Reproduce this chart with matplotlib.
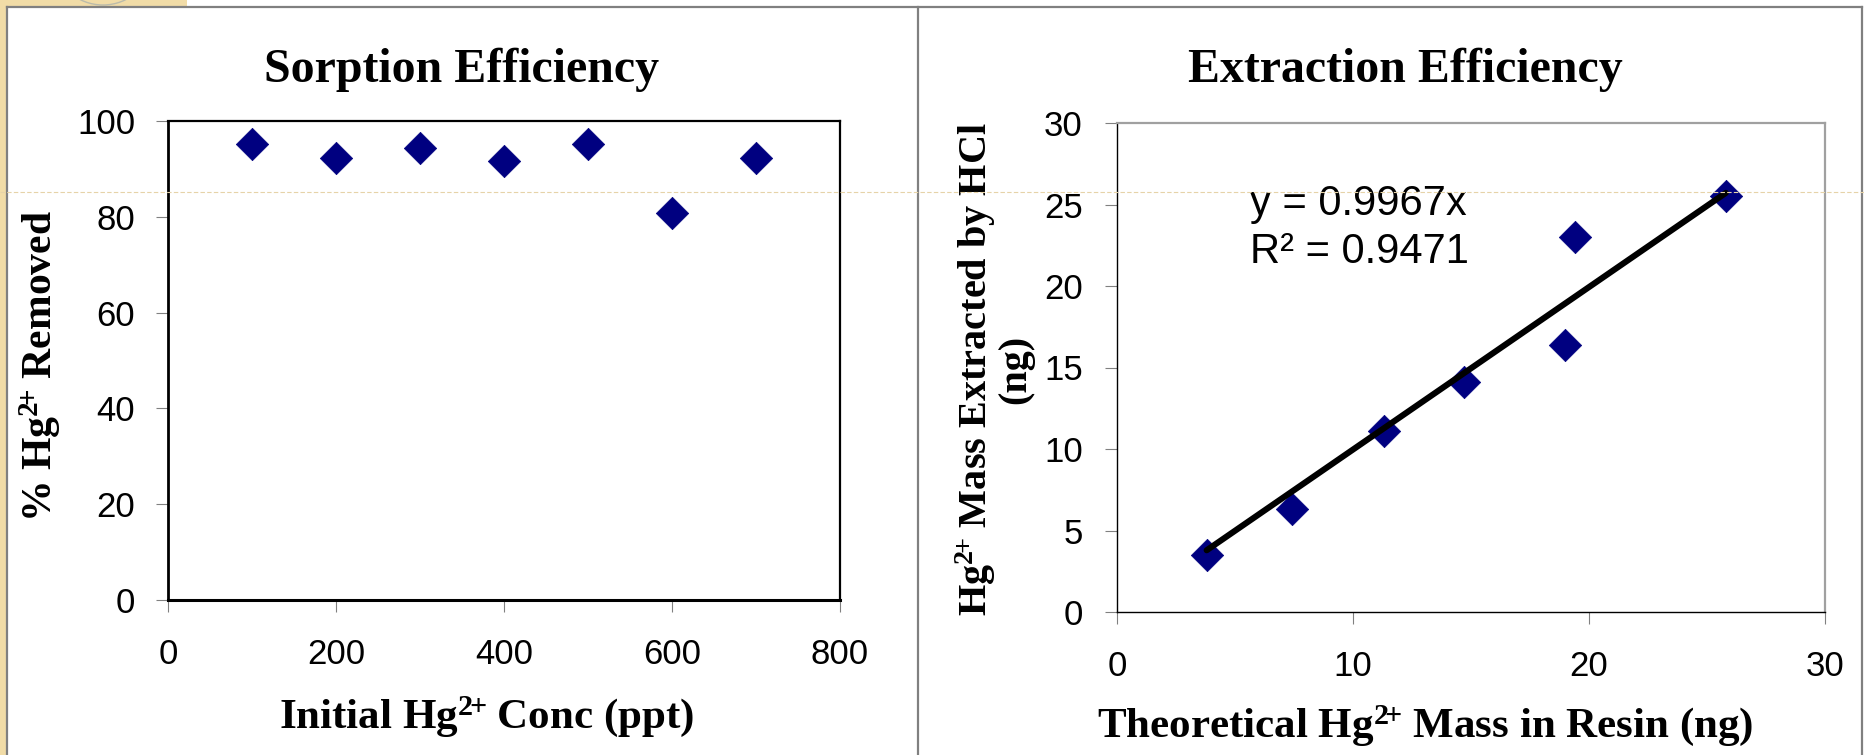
import matplotlib
matplotlib.use("Agg")
import matplotlib.pyplot as plt
from matplotlib.lines import Line2D
from matplotlib.patches import Rectangle, Ellipse

# ---------------- data ----------------
conc_ppt = [100, 200, 300, 400, 500, 600, 700]
pct_removed = [95.2, 92.3, 94.3, 91.6, 95.2, 80.7, 92.3]

theo_mass = [3.8, 7.4, 11.3, 14.7, 19.0, 19.4, 25.8]
extr_mass = [3.5, 6.3, 11.1, 14.1, 16.4, 23.0, 25.5]

slope = 0.9967
r2 = 0.9471

left_xticks = [0, 200, 400, 600, 800]
left_yticks = [0, 20, 40, 60, 80, 100]
right_xticks = [0, 10, 20, 30]
right_yticks = [0, 5, 10, 15, 20, 25, 30]

# ---------------- style ----------------
plt.rcParams['mathtext.fontset'] = 'custom'
plt.rcParams['mathtext.rm'] = 'Liberation Serif:bold'
plt.rcParams['mathtext.it'] = 'Liberation Serif:bold'
plt.rcParams['mathtext.bf'] = 'Liberation Serif:bold'

W, H = 1865, 755
fig = plt.figure(figsize=(W / 100, H / 100), dpi=100)
fig.patch.set_facecolor('white')

def fx(px):
    return px / W

def fy(py):
    return 1 - py / H

SERIF = 'Liberation Serif'
SANS = 'Liberation Sans'
NAVY = '#000080'
GRAY = '#808080'
BEIGE = '#F1DCA7'
SUP = r'Hg$^{2\!\!+}\!$'

# slide decoration
fig.add_artist(Rectangle((0, 0), fx(7), 1, transform=fig.transFigure,
                         facecolor=BEIGE, edgecolor='none', zorder=0))
fig.add_artist(Rectangle((0, fy(7)), fx(187), 7 / H, transform=fig.transFigure,
                         facecolor=BEIGE, edgecolor='none', zorder=0))
fig.add_artist(Ellipse((fx(103), fy(-40)), fx(96), 90 / H, transform=fig.transFigure,
                       facecolor='none', edgecolor='#BBBBAA', lw=1.0, zorder=1))
# frame lines
for x in [7, 918, 1862]:
    fig.add_artist(Line2D([fx(x), fx(x)], [fy(7), 0], transform=fig.transFigure,
                          color=GRAY, lw=1.6, zorder=2))
fig.add_artist(Line2D([fx(7), fx(1862)], [fy(7), fy(7)], transform=fig.transFigure,
                      color=GRAY, lw=1.6, zorder=2))

# ---------------- left chart ----------------
ax1 = fig.add_axes([fx(168), fy(600), fx(840) - fx(168), fy(121) - fy(600)])
ax1.scatter(conc_ppt, pct_removed, marker='D', s=16.5 ** 2, color=NAVY,
            edgecolors=NAVY, linewidths=0.5, zorder=3, clip_on=False)
ax1.set_xlim(0, 800)
ax1.set_ylim(0, 100)
ax1.set_xticks(left_xticks)
ax1.set_yticks(left_yticks)
for s in ax1.spines.values():
    s.set_color('black')
ax1.spines['left'].set_linewidth(2.0)
ax1.spines['bottom'].set_linewidth(2.2)
ax1.spines['top'].set_linewidth(1.6)
ax1.spines['right'].set_linewidth(1.6)
ax1.tick_params(axis='both', direction='out', length=8.6, width=0.8, color=GRAY,
                labelsize=25)
ax1.tick_params(axis='x', pad=19)
ax1.tick_params(axis='y', pad=15)
for lab in ax1.get_xticklabels() + ax1.get_yticklabels():
    lab.set_fontfamily(SANS)

fig.text(fx(462), fy(82), 'Sorption Efficiency', ha='center', va='baseline',
         fontfamily=SERIF, fontweight='bold', fontsize=34.5)
fig.text(fx(487), fy(728), f'Initial {SUP} Conc (ppt)', ha='center', va='baseline',
         fontfamily=SERIF, fontweight='bold', fontsize=31)
fig.text(fx(40), fy(366), f'% {SUP} Removed', ha='center', va='center',
         rotation=90, fontfamily=SERIF, fontweight='bold', fontsize=30)

# ---------------- right chart ----------------
ax2 = fig.add_axes([fx(1117), fy(612), fx(1825) - fx(1117), fy(123) - fy(612)])
ax2.scatter(theo_mass, extr_mass, marker='D', s=16.5 ** 2, color=NAVY,
            edgecolors=NAVY, linewidths=0.5, zorder=3, clip_on=False)
xmin, xmax = min(theo_mass), max(theo_mass)
ax2.plot([xmin, xmax], [slope * xmin, slope * xmax], color='black', lw=4.4,
         solid_capstyle='round', zorder=4)
ax2.set_xlim(0, 30)
ax2.set_ylim(0, 30)
ax2.set_xticks(right_xticks)
ax2.set_yticks(right_yticks)
ax2.spines['left'].set_color('black')
ax2.spines['bottom'].set_color('black')
ax2.spines['left'].set_linewidth(1.0)
ax2.spines['bottom'].set_linewidth(1.0)
ax2.spines['top'].set_color('#A0A0A0')
ax2.spines['right'].set_color('#A0A0A0')
ax2.spines['top'].set_linewidth(1.6)
ax2.spines['right'].set_linewidth(1.6)
ax2.tick_params(axis='both', direction='out', length=8.6, width=0.8, color=GRAY,
                labelsize=25)
ax2.tick_params(axis='x', pad=19)
ax2.tick_params(axis='y', pad=16)
for lab in ax2.get_xticklabels() + ax2.get_yticklabels():
    lab.set_fontfamily(SANS)

fig.text(fx(1250), fy(215), f'y = {slope:.4f}x', ha='left', va='baseline',
         fontfamily=SANS, fontsize=30)
fig.text(fx(1250), fy(263), f'R\u00b2 = {r2:.4f}', ha='left', va='baseline',
         fontfamily=SANS, fontsize=30)

fig.text(fx(1405), fy(82), 'Extraction Efficiency', ha='center', va='baseline',
         fontfamily=SERIF, fontweight='bold', fontsize=34.5)
fig.text(fx(1425), fy(737), f'Theoretical {SUP} Mass in Resin (ng)', ha='center',
         va='baseline', fontfamily=SERIF, fontweight='bold', fontsize=31)
fig.text(fx(994), fy(369), f'{SUP} Mass Extracted by HCl\n(ng)', ha='center',
         va='center', rotation=90, multialignment='center', linespacing=1.0,
         fontfamily=SERIF, fontweight='bold', fontsize=29)

# faint dashed guide line across the slide
fig.add_artist(Line2D([0, 1], [fy(192), fy(192)], transform=fig.transFigure,
                      color='#E6D3A8', lw=0.8, ls=(0, (4, 2)), zorder=10))

fig.savefig('out.png', dpi=100)
